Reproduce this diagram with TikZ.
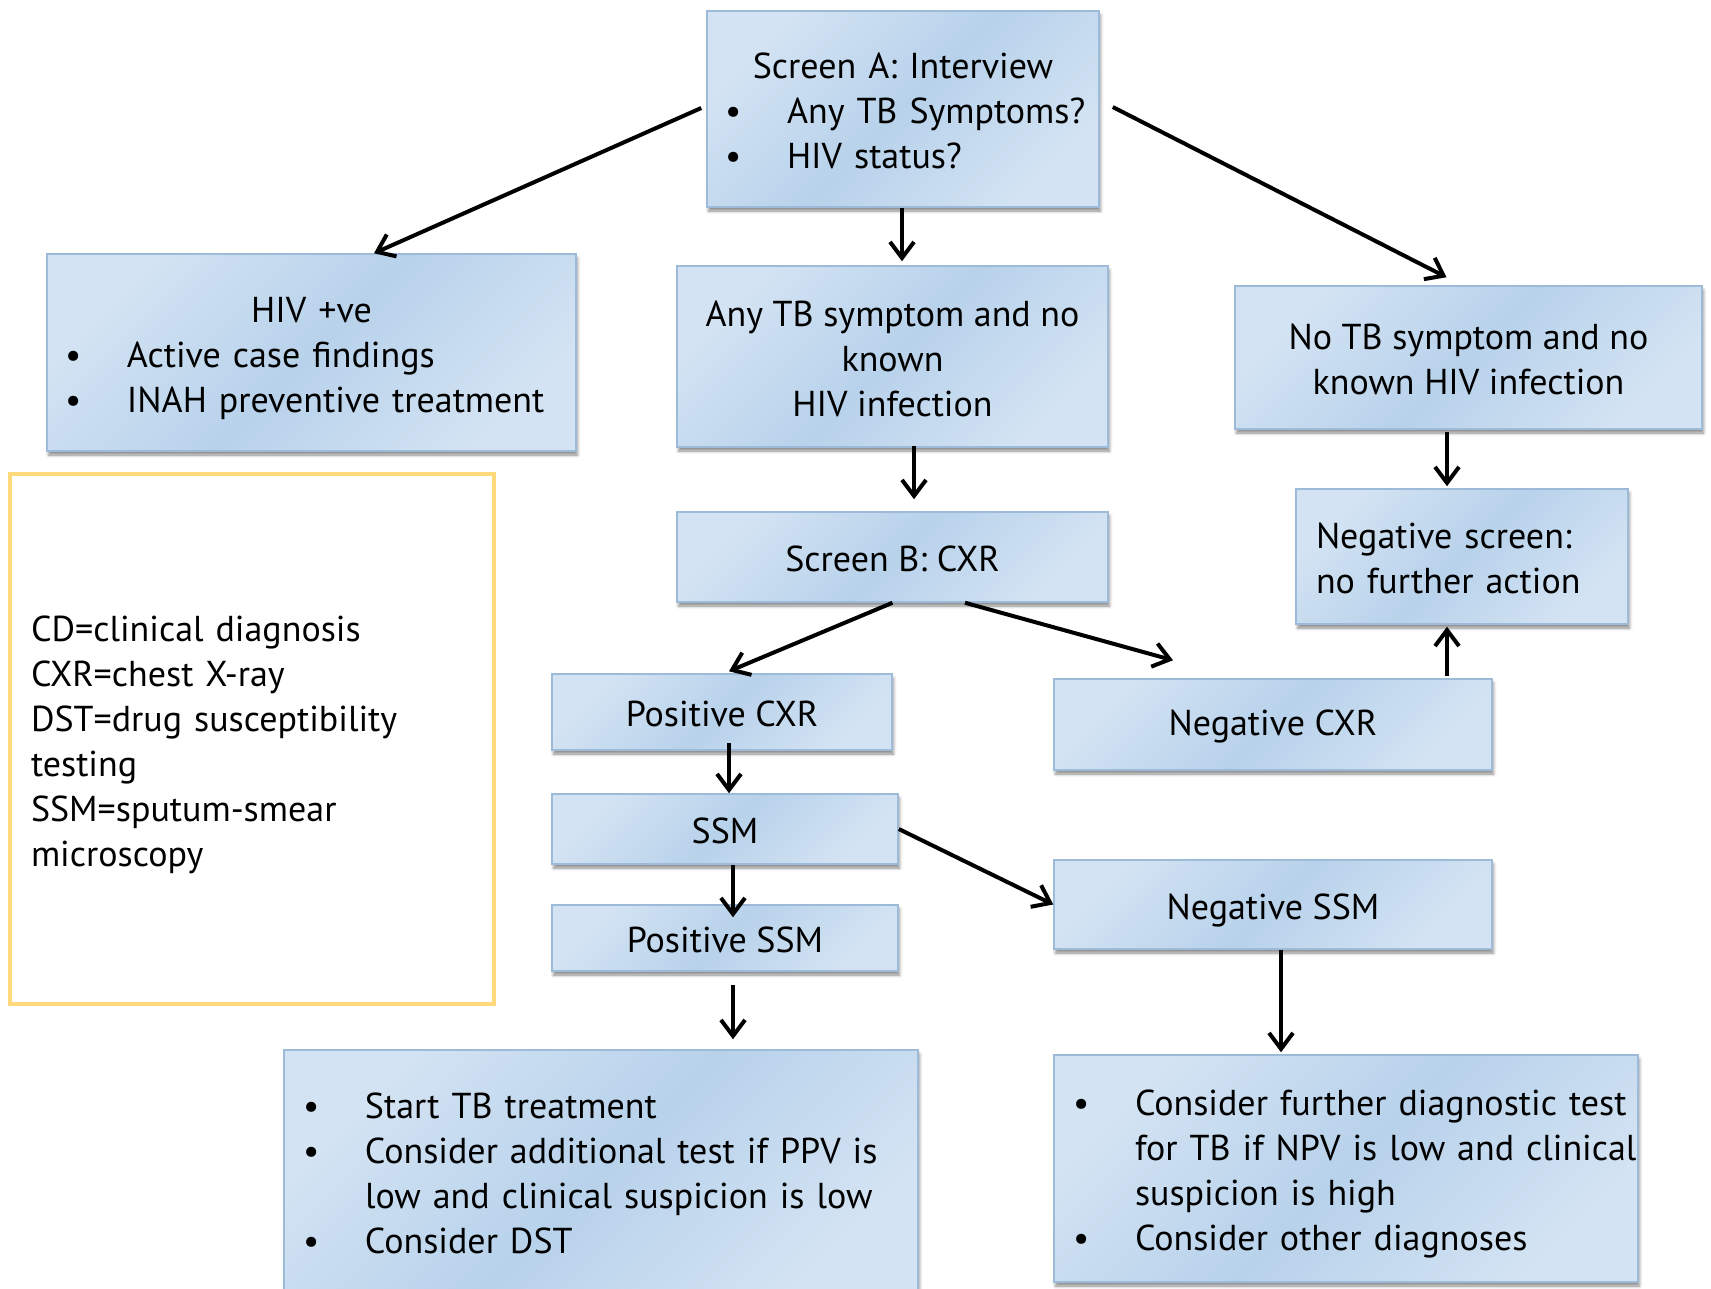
\documentclass[tikz,border=0pt]{standalone}
\usepackage{fontspec}
\setmainfont{PT Sans}
\usetikzlibrary{arrows.meta,shadows.blur,calc}
\definecolor{lite}{HTML}{D3E3F3}
\definecolor{mid}{HTML}{B8D2EB}
\definecolor{bord}{HTML}{9DBAD9}
\definecolor{legendc}{HTML}{FFD97A}
\newcommand\tp{\rule{0pt}{37pt}}
\newcommand\tq{\rule{0pt}{30pt}}
\newcommand\bl[1]{\mbox{\makebox[55pt][l]{\hspace*{-7pt}\textbullet}#1}}
\newcommand\cl[1]{\mbox{\hspace*{55pt}#1}}
\begin{document}
\begin{tikzpicture}[x=1pt,y=-1pt,
  box/.style={draw=bord, line width=1.5pt, left color=lite, right color=lite, middle color=mid, shading angle=45,
    blur shadow={shadow xshift=1.5pt, shadow yshift=-4pt, shadow blur radius=3pt, shadow opacity=45},
    inner sep=0pt, font=\fontsize{36}{45}\selectfont},
  legbox/.style={draw=legendc, line width=4pt, inner sep=0pt, font=\fontsize{36}{45}\selectfont},
  arr/.style={line width=4pt, -{Straight Barb[length=16pt,width=24pt]}}
]
\useasboundingbox (0,0) rectangle (1711,1288);

\node[box, minimum width=392pt, minimum height=196pt, text width=342pt, inner xsep=25pt, align=left] (sa) at (903,109)
  {\tq\makebox[342pt]{Screen A: Interview}\\ \bl{Any TB Symptoms?}\\ \bl{HIV status?}};
\node[box, minimum width=529pt, minimum height=197pt, text width=479pt, inner xsep=25pt, align=left] (hiv) at (311.5,352.5)
  {\tp\makebox[479pt]{HIV +ve}\\ \bl{Active case findings}\\ \bl{INAH preventive treatment}};
\node[box, minimum width=431pt, minimum height=181pt, align=center] (tb) at (892.5,356.5)
  {\tq Any TB symptom and no\\ known\\ HIV infection};
\node[box, minimum width=467pt, minimum height=143pt, align=center] (nt) at (1468.5,357.5)
  {\tq No TB symptom and no\\ known HIV infection};
\node[box, minimum width=332pt, minimum height=135pt, text width=292pt, inner xsep=20pt, align=left] (ns) at (1462,556.5)
  {\tq Negative screen:\\ no further action};
\node[box, minimum width=431pt, minimum height=90pt] (sb) at (892.5,557) {\tq Screen B: CXR};
\node[box, minimum width=340pt, minimum height=76pt] (pc) at (722,712) {\tq Positive CXR};
\node[box, minimum width=438pt, minimum height=91pt] (nc) at (1273,724.5) {\tq Negative CXR};
\node[box, minimum width=346pt, minimum height=70pt] (ssm) at (725,829) {\tq SSM};
\node[box, minimum width=438pt, minimum height=89pt] (nssm) at (1273,904.5) {\tp Negative SSM};
\node[box, minimum width=346pt, minimum height=66pt] (ps) at (725,938) {\tq Positive SSM};
\node[box, minimum width=634pt, minimum height=242pt, text width=582pt, inner xsep=26pt, align=left] (bl) at (601,1171)
  {\tq\bl{Start TB treatment}\\ \bl{Consider additional test if PPV is}\\ \cl{low and clinical suspicion is low}\\ \bl{Consider DST}};
\node[box, minimum width=584pt, minimum height=227pt, text width=532pt, inner xsep=26pt, align=left] (br) at (1346,1168.5)
  {\tp\bl{Consider further diagnostic test}\\ \cl{for TB if NPV is low and clinical}\\ \cl{suspicion is high}\\ \bl{Consider other diagnoses}};
\node[legbox, minimum width=484pt, minimum height=530pt, text width=442pt, inner xsep=21pt, align=left] (leg) at (252,739)
  {\tp CD=clinical diagnosis\\ CXR=chest X-ray\\ DST=drug susceptibility\\ testing\\ SSM=sputum-smear\\ microscopy};

\draw[arr] ($(sa.west)+(-5,-1)$) -- ($(hiv.north)+(62.5,0)$);
\draw[arr] ($(sa.south)+(-1,0)$) -- ($(sa.south |- tb.north)+(-1,-4)$);
\draw[arr] ($(sa.east)+(13,-2)$) -- ($(nt.north)+(-22,-8)$);
\draw[arr] ($(tb.south)+(21.5,-2)$) -- ($(sb.north)+(21.5,-12)$);
\draw[arr] (sb.south) -- ($(pc.north)+(7,-2)$);
\draw[arr] ($(sb.south)+(72.5,0)$) -- ($(nc.north)+(-100,-18)$);
\draw[arr] ($(nt.south)+(-21.5,2)$) -- ($(ns.north)+(-15,-2)$);
\draw[arr] ($(nc.north)+(174,-2)$) -- ($(ns.south)+(-15,2)$);
\draw[arr] ($(pc.south)+(7,-8)$) -- ($(ssm.north)+(4,0)$);
\draw[arr] ($(ssm.south)+(8,0)$) -- ($(ps.north)+(8,13)$);
\draw[arr] (ssm.east) -- (nssm.west);
\draw[arr] ($(ps.south)+(8,13)$) -- ($(bl.north)+(132,-10)$);
\draw[arr] ($(nssm.south)+(8,0)$) -- ($(br.north)+(-65,-2)$);
\end{tikzpicture}
\end{document}
